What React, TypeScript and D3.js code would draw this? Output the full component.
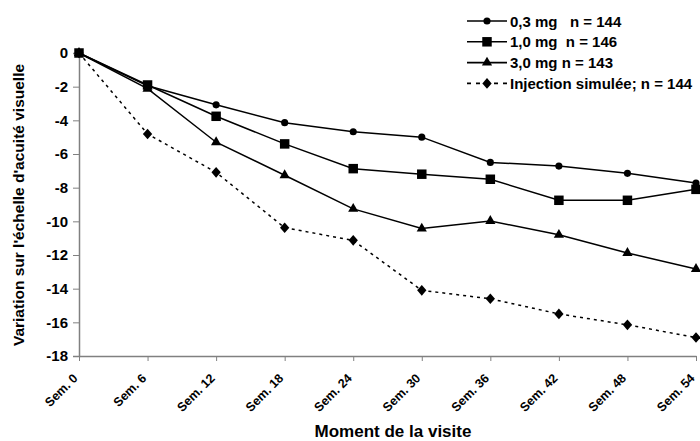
import { useEffect, useRef } from "react";
import * as d3 from "d3";

const weeks = ["Sem. 0", "Sem. 6", "Sem. 12", "Sem. 18", "Sem. 24", "Sem. 30", "Sem. 36", "Sem. 42", "Sem. 48", "Sem. 54"];
const yTicks = [0, -2, -4, -6, -8, -10, -12, -14, -16, -18];

const dose03 = [0, -1.95, -3.08, -4.14, -4.68, -5.0, -6.5, -6.72, -7.15, -7.72];
const dose10 = [0, -1.9, -3.76, -5.4, -6.87, -7.2, -7.5, -8.75, -8.75, -8.1];
const dose30 = [0, -2.12, -5.3, -7.26, -9.26, -10.43, -9.98, -10.8, -11.88, -12.83];
const sham = [0, -4.81, -7.09, -10.38, -11.13, -14.1, -14.6, -15.5, -16.15, -16.9];

const seriesNames = ["0,3 mg   n = 144", "1,0 mg  n = 146", "3,0 mg n = 143", "Injection simulée; n = 144"];

const font = "Arial, 'Liberation Sans', sans-serif";

// slightly taller than wide, like the reference
const diamond = {
  draw(ctx: any, size: number) {
    const h = Math.sqrt(size / 2) * 1.06;
    const w = h * 0.88;
    ctx.moveTo(0, -h);
    ctx.lineTo(w, 0);
    ctx.lineTo(0, h);
    ctx.lineTo(-w, 0);
    ctx.closePath();
  },
};

export default function App() {
  const svgRef = useRef<SVGSVGElement>(null);

  useEffect(() => {
    const svg = d3.select(svgRef.current);
    svg.selectAll("*").remove();

    const x = d3.scalePoint().domain(weeks).range([79, 696]);
    const y = d3.scaleLinear().domain([-18, 0]).range([356, 53]);

    const series = [
      { values: dose03, marker: d3.symbolCircle, size: 40, dash: null },
      { values: dose10, marker: d3.symbolSquare, size: 90, dash: null },
      { values: dose30, marker: d3.symbolTriangle, size: 45, dash: null },
      { values: sham, marker: diamond, size: 50, dash: "3,4" },
    ];

    // axes
    const yAxis = svg.append("g")
      .attr("transform", "translate(79,0)")
      .call(d3.axisLeft(y).tickValues(yTicks).tickSize(6).tickPadding(5).tickFormat(d => String(d)));
    yAxis.select(".domain").attr("stroke", "#808080").attr("stroke-width", 1.5);
    yAxis.selectAll(".tick line").attr("stroke", "#808080");
    yAxis.selectAll("text")
      .attr("font-family", font).attr("font-size", 15).attr("font-weight", "bold").attr("fill", "#000");

    const xAxis = svg.append("g")
      .attr("transform", "translate(0,356)")
      .call(d3.axisBottom(x).tickSize(5).tickSizeOuter(0));
    xAxis.select(".domain").attr("stroke", "#808080").attr("stroke-width", 1.5);
    xAxis.selectAll(".tick line").attr("stroke", "#808080");
    xAxis.selectAll("text")
      .attr("font-family", font).attr("font-size", 12.5).attr("font-weight", "bold").attr("fill", "#000")
      .attr("text-anchor", "end")
      .attr("dy", null)
      .attr("y", 0)
      .attr("transform", "translate(-1,23) rotate(-45)");

    // lines and markers
    const line = d3.line<number>()
      .x((_, i) => x(weeks[i])!)
      .y(d => y(d));

    series.forEach(s => {
      svg.append("path")
        .datum(s.values)
        .attr("d", line)
        .attr("fill", "none")
        .attr("stroke", "#000")
        .attr("stroke-width", 1.5)
        .attr("stroke-dasharray", s.dash);
    });

    series.forEach(s => {
      svg.append("g").selectAll("path")
        .data(s.values)
        .join("path")
        .attr("transform", (d, i) => `translate(${x(weeks[i])},${y(d)})`)
        .attr("d", d3.symbol().type(s.marker as any).size(s.size)())
        .attr("fill", "#000");
    });

    // legend
    const legend = svg.append("g");
    series.forEach((s, i) => {
      const ly = 21 + i * 20.8;
      legend.append("line")
        .attr("x1", 467).attr("x2", 507).attr("y1", ly).attr("y2", ly)
        .attr("stroke", "#000").attr("stroke-width", 1.6)
        .attr("stroke-dasharray", s.dash ? "4,5" : null);
      legend.append("path")
        .attr("transform", `translate(487,${ly})`)
        .attr("d", d3.symbol().type(s.marker as any).size(s.size)())
        .attr("fill", "#000");
      legend.append("text")
        .attr("x", 510).attr("y", ly + 5.5)
        .attr("font-family", font).attr("font-size", 15).attr("font-weight", "bold")
        .style("white-space", "pre")
        .text(seriesNames[i]);
    });

    // axis titles
    svg.append("text")
      .attr("transform", "translate(24,205) rotate(-90)")
      .attr("text-anchor", "middle")
      .attr("font-family", font).attr("font-size", 15.5).attr("font-weight", "bold")
      .text("Variation sur l'échelle d'acuité visuelle");

    svg.append("text")
      .attr("x", 393).attr("y", 437)
      .attr("text-anchor", "middle")
      .attr("font-family", font).attr("font-size", 17).attr("font-weight", "bold")
      .text("Moment de la visite");
  }, []);

  return (
    <div style={{ position: "absolute", left: 0, top: 0 }}>
      <svg ref={svgRef} width={700} height={441} style={{ display: "block", background: "#fff" }}></svg>
    </div>
  );
}
